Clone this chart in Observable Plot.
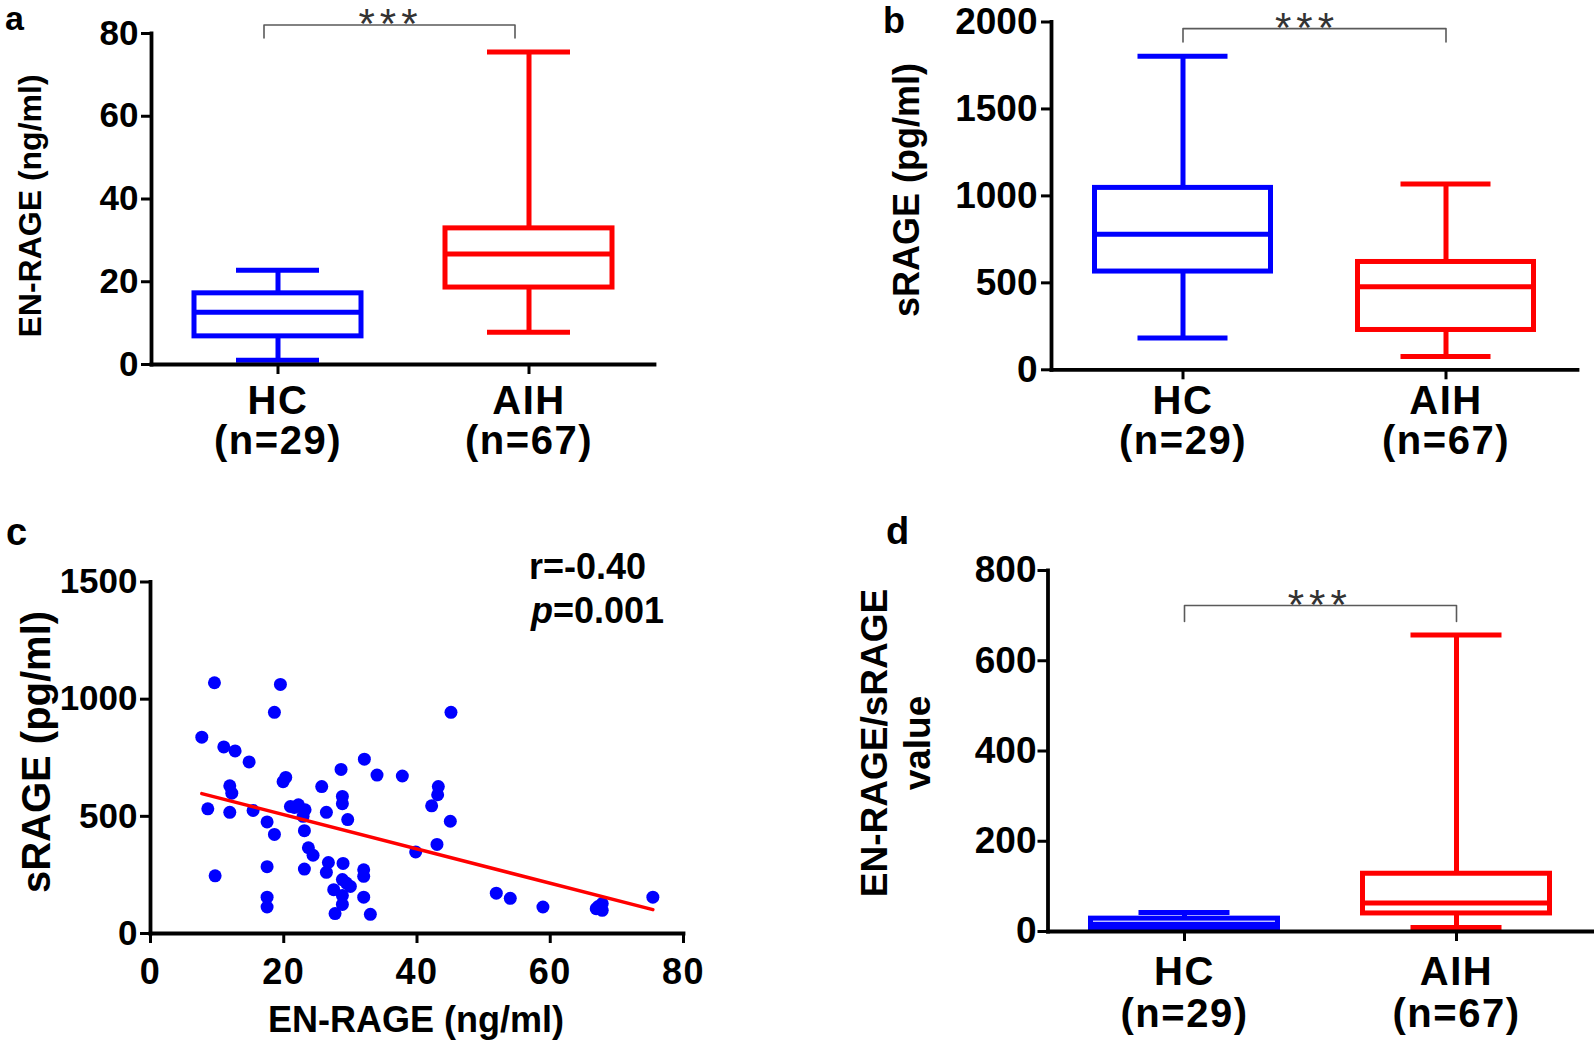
<!DOCTYPE html>
<html>
<head>
<meta charset="utf-8">
<script src="https://cdn.jsdelivr.net/npm/d3@7"></script>
<script src="https://cdn.jsdelivr.net/npm/@observablehq/plot@0.6"></script>
<style>
  body { margin: 0; background: #fff; }
  #fig { position: relative; width: 1594px; height: 1046px; overflow: hidden; background: #fff;
         font-family: "Liberation Sans", Arial, Helvetica, sans-serif; font-weight: bold; color: #000; }
  .txt { position: absolute; white-space: nowrap; }
  .panel { position: absolute; }
  #fig svg g[aria-label="text"] text { letter-spacing: 5px; }
  #fig svg g[aria-label="x-axis tick label"] text { letter-spacing: 1.5px; }
</style>
</head>
<body>
<div id="fig"></div>
<script>
// ---------------- data ----------------
const groups = ["HC", "AIH"];
const groupSizes = [29, 67];
const groupColors = ["#0000ff", "#ff0000"];

// a: EN-RAGE (ng/ml) box plot (min, Q1, median, Q3, max)
const enRageMin = [1.0, 7.8];
const enRageQ1 = [6.8, 18.6];
const enRageMedian = [12.6, 26.7];
const enRageQ3 = [17.2, 32.9];
const enRageMax = [22.8, 75.5];
const enRageTicks = [0, 20, 40, 60, 80];

// b: sRAGE (pg/ml) box plot
const sRageMin = [183, 76];
const sRageQ1 = [565, 229];
const sRageMedian = [779, 477];
const sRageQ3 = [1046, 620];
const sRageMax = [1803, 1069];
const sRageTicks = [0, 500, 1000, 1500, 2000];

// d: EN-RAGE/sRAGE value box plot
const ratioMin = [2, 9];
const ratioQ1 = [6, 40];
const ratioMedian = [16, 63];
const ratioQ3 = [28.5, 128];
const ratioMax = [42, 657];
const ratioTicks = [0, 200, 400, 600, 800];

// c: scatter EN-RAGE (x) vs sRAGE (y), AIH patients
const scatterEnRage = [9.6, 19.5, 18.6, 45.1, 7.7, 11.0, 12.7, 14.8, 32.1, 28.6, 34.0, 37.8, 20.3, 19.9, 25.7, 11.9, 12.2,
  43.2, 43.1, 42.2, 28.8, 28.8, 8.6, 11.9, 15.4, 21.0, 22.2, 23.2, 22.9, 26.4, 29.6, 17.5, 18.6, 23.1, 45.0, 43.0, 39.8,
  23.7, 24.4, 9.7, 17.5, 23.1, 26.7, 26.4, 28.9, 32.0, 32.0, 28.8, 30.0, 27.5, 28.8, 28.8, 27.7, 33.0, 32.0, 17.5, 17.5,
  51.9, 54.0, 58.9, 66.9, 67.8, 67.8, 75.4, 21.6, 29.4, 67.2];
const scatterSRage = [1070, 1063, 944, 944, 838, 796, 779, 732, 744, 700, 676, 672, 666, 648, 627, 630, 599,
  627, 592, 545, 585, 554, 532, 517, 525, 542, 549, 528, 500, 517, 486, 476, 423, 439, 479, 380, 348,
  366, 334, 246, 285, 275, 303, 261, 299, 272, 244, 230, 201, 187, 162, 124, 85, 82, 155, 155, 113,
  172, 150, 113, 106, 128, 99, 155, 538, 215, 115];
const fitEnRage = [7.7, 75.4];
const fitSRage = [597, 102];
const scatterXTicks = [0, 20, 40, 60, 80];
const scatterYTicks = [0, 500, 1000, 1500];
const corrR = "r=-0.40";
const corrP = "0.001";
const sigLabel = "***";

// ---------------- helpers ----------------
const FONT = '"Liberation Sans", Arial, Helvetica, sans-serif';
const fig = document.getElementById("fig");
const SW = 5;

function addText(html, {left, baseline, size, center = false, lh = 1}) {
  const d = document.createElement("div");
  d.className = "txt";
  d.innerHTML = html;
  d.style.fontSize = size + "px";
  d.style.lineHeight = lh;
  d.style.top = (baseline - ((lh - 1.117) / 2 + 0.905) * size) + "px";
  d.style.left = left + "px";
  if (center) d.style.transform = "translateX(-50%)";
  fig.appendChild(d);
}
function addRotated(html, {cx, cy, size}) {
  const d = document.createElement("div");
  d.className = "txt";
  d.innerHTML = html;
  d.style.fontSize = size + "px";
  d.style.lineHeight = 1;
  d.style.left = (cx - 0.0865 * size) + "px";
  d.style.top = cy + "px";
  d.style.transform = "translate(-50%,-50%) rotate(-90deg)";
  fig.appendChild(d);
}
function placeSvg(svg, left, top) {
  svg.classList.add("panel");
  svg.style.left = left + "px";
  svg.style.top = top + "px";
  fig.appendChild(svg);
}
const plotStyle = {fontFamily: FONT, fontWeight: "bold", background: "transparent", overflow: "visible", color: "#000"};

function boxPanel(c) {
  const [mins, q1s, meds, q3s, maxs] = c.stats;
  const rows = groups.map((g, i) => ({g, color: groupColors[i], min: mins[i], q1: q1s[i], med: meds[i], q3: q3s[i], max: maxs[i]}));
  const top = c.yDomain[1];
  const hi = top * c.bracketHigh, lo = top * c.bracketLow;
  const bracket = [{g: groups[0], y: lo}, {g: groups[0], y: hi}, {g: groups[1], y: hi}, {g: groups[1], y: lo}];
  const stars = [{y: hi, label: sigLabel}];
  const starSize = 42;
  return Plot.plot({
    width: c.width, height: c.height,
    marginLeft: c.ml, marginRight: c.mr, marginTop: c.mt, marginBottom: c.mb,
    style: plotStyle,
    x: {type: "band", domain: groups, padding: 0},
    y: {domain: c.yDomain},
    color: {type: "identity"},
    marks: [
      Plot.ruleX(rows, {x: "g", y1: "min", y2: "max", stroke: "color", strokeWidth: SW}),
      Plot.tickY(rows, {x: "g", y: "min", stroke: "color", strokeWidth: SW, insetLeft: c.capInset, insetRight: c.capInset}),
      Plot.tickY(rows, {x: "g", y: "max", stroke: "color", strokeWidth: SW, insetLeft: c.capInset, insetRight: c.capInset}),
      Plot.barY(rows, {x: "g", y1: "q1", y2: "q3", fill: "white", stroke: "color", strokeWidth: SW, insetLeft: c.boxInset, insetRight: c.boxInset}),
      Plot.tickY(rows, {x: "g", y: "med", stroke: "color", strokeWidth: SW, insetLeft: c.boxInset, insetRight: c.boxInset}),
      Plot.frame({anchor: "left", strokeWidth: 3.8}),
      Plot.frame({anchor: "bottom", strokeWidth: 3.8}),
      Plot.axisY({ticks: c.yTicks, tickFormat: d => String(d), tickSize: 10, tickPadding: c.yPad, fontSize: c.yFont, strokeWidth: 3, label: null}),
      Plot.axisX({tickSize: 10, tickPadding: c.xPad, fontSize: 40, lineHeight: c.lh,
        tickFormat: g => `${g}\n(n=${groupSizes[groups.indexOf(g)]})`, strokeWidth: 3, label: null}),
      Plot.line(bracket, {x: "g", y: "y", stroke: "#5a5a5a", strokeWidth: 1.6, dx: c.bracketDx}),
      Plot.text(stars, {y: "y", text: "label", dx: c.starDx + 2.5, dy: -0.3, lineAnchor: "middle",
        fontSize: starSize, fontWeight: "normal", fill: "#333"})
    ]
  });
}

// ---------------- panel a ----------------
placeSvg(boxPanel({
  stats: [enRageMin, enRageQ1, enRageMedian, enRageQ3, enRageMax],
  yDomain: [0, 80], yTicks: enRageTicks, yFont: 35,
  width: 700, height: 470, ml: 151, mr: 46, mt: 33, mb: 106,
  boxInset: 42, capInset: 84, yPad: 3, xPad: 11, lh: 1.0,
  bracketHigh: 82.05 / 80, bracketLow: 78.9 / 80, bracketDx: -14, starDx: -15
}), 0, 0);

// ---------------- panel b ----------------
placeSvg(boxPanel({
  stats: [sRageMin, sRageQ1, sRageMedian, sRageQ3, sRageMax],
  yDomain: [0, 2000], yTicks: sRageTicks, yFont: 37,
  width: 800, height: 470, ml: 257, mr: 17, mt: 21.5, mb: 100.7,
  boxInset: 43.5, capInset: 86.5, yPad: 4, xPad: 6, lh: 1.0,
  bracketHigh: 1962 / 2000, bracketLow: 1885 / 2000, bracketDx: 0, starDx: -10
}), 794, 0);

// ---------------- panel d ----------------
placeSvg(boxPanel({
  stats: [ratioMin, ratioQ1, ratioMedian, ratioQ3, ratioMax],
  yDomain: [0, 800], yTicks: ratioTicks, yFont: 37,
  width: 800, height: 546, ml: 253.5, mr: 2, mt: 70, mb: 115,
  boxInset: 42.5, capInset: 90.5, yPad: 1.5, xPad: 14, lh: 1.04,
  bracketHigh: 722.5 / 800, bracketLow: 687 / 800, bracketDx: 0, starDx: -3
}), 794, 500);

// ---------------- panel c ----------------
const scatter = scatterEnRage.map((x, i) => ({x, y: scatterSRage[i]}));
const fit = fitEnRage.map((x, i) => ({x, y: fitSRage[i]}));
placeSvg(Plot.plot({
  width: 720, height: 546,
  marginLeft: 150, marginRight: 37, marginTop: 81.5, marginBottom: 113,
  style: plotStyle,
  x: {domain: [0, 80]},
  y: {domain: [0, 1500]},
  marks: [
    Plot.dot(scatter, {x: "x", y: "y", r: 6.5, fill: "#0000ff", stroke: "none"}),
    Plot.line(fit, {x: "x", y: "y", stroke: "#ff0000", strokeWidth: 3.5}),
    Plot.frame({anchor: "left", strokeWidth: 3.8}),
    Plot.frame({anchor: "bottom", strokeWidth: 3.8}),
    Plot.axisY({ticks: scatterYTicks, tickFormat: d => String(d), tickSize: 10, tickPadding: 3, fontSize: 35, strokeWidth: 3, label: null}),
    Plot.axisX({ticks: scatterXTicks, tickFormat: d => String(d), tickSize: 10, tickPadding: 15, fontSize: 36, strokeWidth: 3, label: null})
  ]
}), 0, 500);

// ---------------- text: panel letters, axis titles, annotations ----------------
addText("a", {left: 5, baseline: 31, size: 34, lh: 0.7});
addText("b", {left: 883, baseline: 33, size: 36, lh: 0.7});
addText("c", {left: 6, baseline: 545, size: 38, lh: 0.7});
addText("d", {left: 886, baseline: 544, size: 38, lh: 0.7});

addRotated("EN-RAGE (ng/ml)", {cx: 33, cy: 206, size: 32});
addRotated("sRAGE (pg/ml)", {cx: 910, cy: 190, size: 36});
addRotated("sRAGE (pg/ml)", {cx: 39, cy: 752, size: 40});
addRotated("EN-RAGE/sRAGE", {cx: 877, cy: 743, size: 37});
addRotated("value", {cx: 920, cy: 743, size: 37});

addText("EN-RAGE (ng/ml)", {left: 416, baseline: 1032, size: 36, center: true});
addText(corrR, {left: 529, baseline: 579, size: 36});
addText(`<i>p</i>=${corrP}`, {left: 531, baseline: 623, size: 36});
</script>
</body>
</html>
